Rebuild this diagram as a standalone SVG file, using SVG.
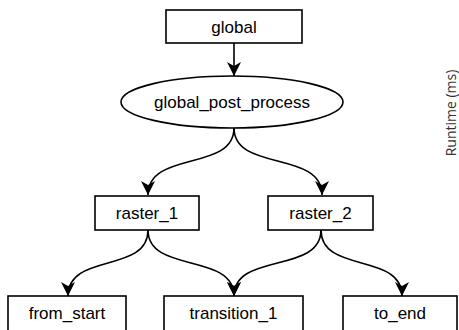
<svg xmlns="http://www.w3.org/2000/svg" width="459" height="330" viewBox="0 0 459 330">
  <style>
    .box { fill: #ffffff; stroke: #000000; stroke-width: 1.6; }
    .label { font-family: "Liberation Sans", Arial, sans-serif; font-size: 17px; fill: #000000; text-anchor: middle; }
    .edge { fill: none; stroke: #000000; stroke-width: 1.6; marker-end: url(#arrow); }
    .axis { font-family: "Open Sans", "DejaVu Sans", sans-serif; font-size: 14px; fill: #333333; text-anchor: middle; }
  </style>
  <defs>
    <marker id="arrow" markerUnits="userSpaceOnUse" markerWidth="16" markerHeight="16" viewBox="0 0 16 16" refX="15" refY="8" orient="auto">
      <path d="M1,1 L15,8 L1,15 L5,8 Z" fill="#000000"/>
    </marker>
  </defs>

  <rect width="459" height="330" fill="#ffffff"/>

  <g id="connectors">
    <path class="edge" d="M234,43 L234,76"/>
    <path class="edge" d="M234,128 C234,172 148,150 148,195"/>
    <path class="edge" d="M234,128 C234,172 322,150 322,195"/>
    <path class="edge" d="M148,230 C148,274 68,252 68,296"/>
    <path class="edge" d="M148,230 C148,274 234,252 234,296"/>
    <path class="edge" d="M321,230 C321,274 234,252 234,296"/>
    <path class="edge" d="M321,230 C321,274 402,252 402,296"/>
  </g>

  <g id="global">
    <rect class="box" x="166" y="10" width="136" height="33"/>
    <text class="label" x="234" y="32.5">global</text>
  </g>

  <g id="global_post_process">
    <ellipse class="box" cx="232" cy="102" rx="111" ry="26"/>
    <text class="label" x="232" y="108">global_post_process</text>
  </g>

  <g id="raster_1">
    <rect class="box" x="95" y="196" width="104" height="34"/>
    <text class="label" x="147" y="219">raster_1</text>
  </g>

  <g id="raster_2">
    <rect class="box" x="268" y="196" width="105" height="34"/>
    <text class="label" x="320.5" y="219">raster_2</text>
  </g>

  <g id="from_start">
    <rect class="box" x="8" y="296" width="118" height="36"/>
    <text class="label" x="67" y="318.5">from_start</text>
  </g>

  <g id="transition_1">
    <rect class="box" x="164" y="296" width="139" height="36"/>
    <text class="label" x="233.5" y="318.5">transition_1</text>
  </g>

  <g id="to_end">
    <rect class="box" x="343" y="296" width="114" height="36"/>
    <text class="label" x="400" y="318.5">to_end</text>
  </g>

  <text class="axis" transform="translate(455.5,113) rotate(-90)">Runtime (ms)</text>
</svg>
